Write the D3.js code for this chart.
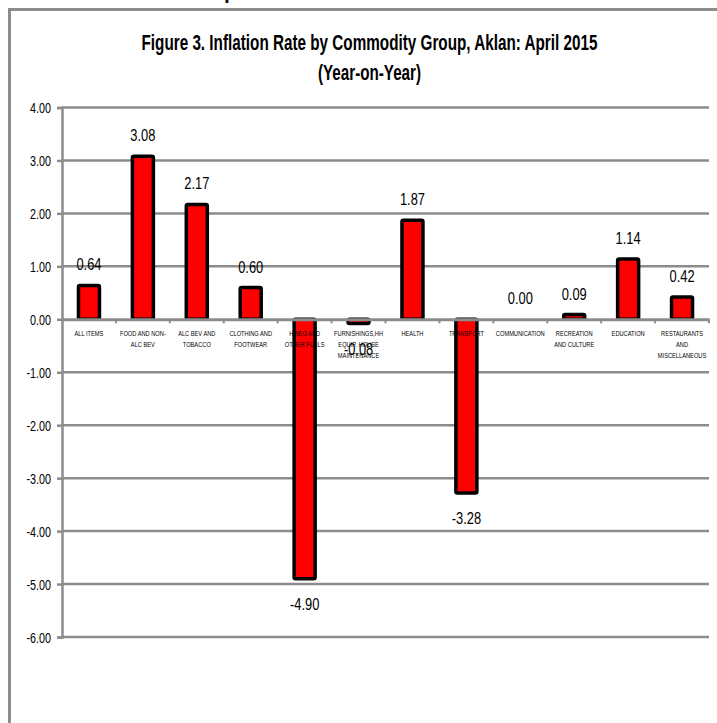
<!DOCTYPE html>
<html>
<head>
<meta charset="utf-8">
<script src="https://cdn.jsdelivr.net/npm/d3@7"></script>
<style>
  html, body { margin: 0; padding: 0; background: #fff; }
  svg { display: block; }
  text { font-family: "Liberation Sans", Arial, sans-serif; }
</style>
</head>
<body>
<svg id="chart" width="717" height="723"></svg>
<script>
// ---- data ----
const categories = [
  "ALL ITEMS",
  "FOOD AND NON-|ALC BEV",
  "ALC BEV AND|TOBACCO",
  "CLOTHING AND|FOOTWEAR",
  "HWEG AND|OTHER FUELS",
  "FURNISHINGS,HH|EQUIP. HOUSE|MAINTENANCE",
  "HEALTH",
  "TRANSPORT",
  "COMMUNICATION",
  "RECREATION|AND CULTURE",
  "EDUCATION",
  "RESTAURANTS|AND|MISCELLANEOUS"
];
const values = [0.64, 3.08, 2.17, 0.60, -4.90, -0.08, 1.87, -3.28, 0.00, 0.09, 1.14, 0.42];
const yTicks = [4, 3, 2, 1, 0, -1, -2, -3, -4, -5, -6];
const titleLines = ["Figure 3. Inflation Rate by Commodity Group, Aklan: April 2015", "(Year-on-Year)"];

// ---- layout ----
const svg = d3.select("#chart");
const pL = 62, pR = 709, pT = 107.5, pB = 637;
const gray = "#8c8c8c";
const sx = 0.77; // horizontal squeeze of the condensed chart text
const fmt = v => d3.format(".2f")(v).replace("\u2212", "-");

const x = d3.scaleBand().domain(categories).range([pL, pR]).padding(0);
const y = d3.scaleLinear().domain([-6, 4]).range([pB, pT]);

// stray text fragment from the page above (cut off)
svg.append("text").attr("x", 224).attr("y", -1)
  .attr("font-size", 21).attr("font-weight", "bold").attr("fill", "#111").text("p");

// outer frame (extends beyond the picture on right/bottom)
svg.append("path")
  .attr("d", "M9.5,730 L9.5,9.5 L730,9.5")
  .attr("fill", "none").attr("stroke", gray).attr("stroke-width", 3);

// title
const titleCx = 369.5;
svg.append("text").attr("x", titleCx).attr("y", 49.5)
  .attr("text-anchor", "middle").attr("font-weight", "bold").attr("font-size", 22)
  .attr("textLength", 456).attr("lengthAdjust", "spacingAndGlyphs")
  .attr("fill", "#000").text(titleLines[0]);
svg.append("text").attr("x", titleCx).attr("y", 80)
  .attr("text-anchor", "middle").attr("font-weight", "bold").attr("font-size", 22)
  .attr("textLength", 103).attr("lengthAdjust", "spacingAndGlyphs")
  .attr("fill", "#000").text(titleLines[1]);

// gridlines
svg.append("g").selectAll("line").data(yTicks.filter(d => d !== 0)).join("line")
  .attr("x1", pL).attr("x2", pR)
  .attr("y1", d => y(d)).attr("y2", d => y(d))
  .attr("stroke", gray).attr("stroke-width", 2.5);

// y axis
const yAxis = d3.axisLeft(y).tickValues(yTicks).tickFormat(fmt).tickSize(5).tickPadding(6);
const ya = svg.append("g").attr("transform", `translate(${pL},0)`).call(yAxis);
ya.select(".domain").attr("stroke", gray).attr("stroke-width", 2.5);
ya.selectAll(".tick line").attr("stroke", gray).attr("stroke-width", 2.5);
ya.selectAll(".tick text")
  .attr("x", -11 / sx).attr("dy", "0.36em")
  .attr("transform", `scale(${sx},1)`)
  .attr("font-size", 14).attr("fill", "#000")
  .style("font-family", '"Liberation Sans", Arial, sans-serif');

// bars
const bw = 21;
svg.append("g").selectAll("rect").data(values).join("rect")
  .attr("x", (d, i) => x(categories[i]) + x.bandwidth() / 2 - bw / 2)
  .attr("width", bw)
  .attr("y", d => y(Math.max(0, d)))
  .attr("height", d => Math.abs(y(d) - y(0)))
  .attr("rx", 1.5)
  .attr("fill", "#ff0000").attr("stroke", "#000").attr("stroke-width", 3.5)
  .attr("display", d => d === 0 ? "none" : null);

// zero line with category ticks
const xAxis = d3.axisBottom(x).tickSize(0).tickFormat("");
const xa = svg.append("g").attr("transform", `translate(0,${y(0)})`).call(xAxis);
xa.select(".domain").attr("stroke", gray).attr("stroke-width", 3);
xa.selectAll(".tick").remove();
svg.append("g").selectAll("line").data(categories).join("line")
  .attr("x1", (d, i) => pL + (i + 1) * x.step()).attr("x2", (d, i) => pL + (i + 1) * x.step())
  .attr("y1", y(0)).attr("y2", y(0) + 4)
  .attr("stroke", gray).attr("stroke-width", 2);

// category labels
const cl = svg.append("g");
categories.forEach((c, i) => {
  const cx = x(c) + x.bandwidth() / 2;
  const t = cl.append("text")
    .attr("transform", `translate(${cx},336) scale(0.75,1)`)
    .attr("text-anchor", "middle").attr("font-size", 7.6).attr("fill", "#000");
  c.split("|").forEach((ln, j) => {
    t.append("tspan").attr("x", 0).attr("y", j * 11).text(ln);
  });
});

// value labels
svg.append("g").selectAll("text").data(values).join("text")
  .attr("transform", (d, i) => `translate(${x(categories[i]) + x.bandwidth() / 2},${d < 0 ? y(d) + 31 : y(d) - 15}) scale(0.78,1)`)
  .attr("text-anchor", "middle").attr("font-size", 16.5).attr("fill", "#000")
  .text(d => fmt(d));
</script>
</body>
</html>
